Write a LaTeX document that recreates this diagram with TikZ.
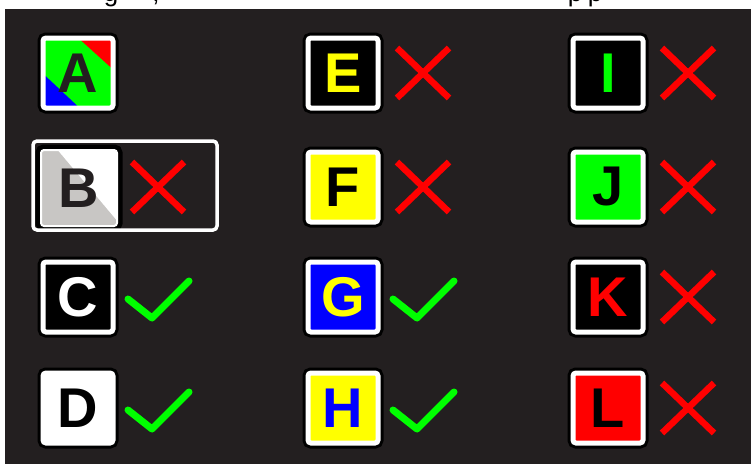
\documentclass[tikz,border=0pt]{standalone}
\usepackage{fontspec}
\setmainfont{Liberation Sans}
\usetikzlibrary{calc}
\definecolor{bg}{RGB}{35,31,32}
\definecolor{pgreen}{RGB}{0,255,0}
\definecolor{pred}{RGB}{255,0,0}
\definecolor{pblue}{RGB}{0,0,255}
\definecolor{pyellow}{RGB}{255,255,0}
\definecolor{bgray}{RGB}{200,198,196}
\begin{document}
\begin{tikzpicture}[x=1pt,y=-1pt,
  tile/.style={minimum size=70pt, inner sep=0pt, rounded corners=3pt,
    draw=white, line width=5pt, preaction={draw=black, line width=11pt},
    font=\fontsize{56}{56}\selectfont\bfseries},
  bigtile/.style={tile, minimum size=76pt, line width=2pt, preaction={draw=black, line width=9pt}},
  redx/.pic={\draw[pred, line width=6.5pt] (-26,-25) -- (26,25) (-26,25) -- (26,-25);},
  greencheck/.pic={\draw[pgreen, line width=7pt, line cap=round, line join=round] (-30,2) -- (-6,21) -- (31,-16);},
  toptext/.style={anchor=base, inner sep=0pt, font=\fontsize{26}{26}\selectfont}
]
\useasboundingbox (0,0) rectangle (751,464);
\fill[white] (0,0) rectangle (751,464);
\fill[bg] (5,9) rectangle (751,464);
\begin{scope}
  \clip (0,0) rectangle (751,9);
  \node[toptext] (t1) at (111,1) {g};
  \node[toptext] (t2) at (156,1) {,};
  \node[toptext] (t3) at (575,1) {p};
  \node[toptext] (t4) at (595,1) {p};
\end{scope}
% column 1
\node[tile, fill=pgreen, text=bg,
  path picture={
    \fill[pred] ([shift={(-0.8,-36)}]path picture bounding box.center) -- ([shift={(36,-36)}]path picture bounding box.center) -- ([shift={(36,-2.7)}]path picture bounding box.center) -- cycle;
    \fill[pblue] ([shift={(-36,-0.3)}]path picture bounding box.center) -- ([shift={(-36,36)}]path picture bounding box.center) -- ([shift={(2.7,36)}]path picture bounding box.center) -- cycle;
  }] (tA) at (78,73) {A};
\node[bigtile, fill=bgray, text=bg,
  path picture={
    \fill[white] ([shift={(-23,-40)}]path picture bounding box.center) -- ([shift={(40,-40)}]path picture bounding box.center) -- ([shift={(40,35)}]path picture bounding box.center) -- cycle;
  }] (tB) at (79,188) {B};
\node[tile, fill=black, text=white] (tC) at (78,297) {C};
\node[tile, fill=white, text=black] (tD) at (78,408) {D};
% column 2
\node[tile, fill=black, text=pyellow] (tE) at (343,73) {E};
\node[tile, fill=pyellow, text=black] (tF) at (343,187) {F};
\node[tile, fill=pblue, text=pyellow] (tG) at (343,297) {G};
\node[tile, fill=pyellow, text=pblue] (tH) at (343,408) {H};
% column 3
\node[tile, fill=black, text=pgreen] (tI) at (608,73) {I};
\node[tile, fill=pgreen, text=black] (tJ) at (608,187) {J};
\node[tile, fill=black, text=pred] (tK) at (608,297) {K};
\node[tile, fill=pred, text=black] (tL) at (608,408) {L};
% selection box
\node[draw=white, line width=3.5pt, rounded corners=4pt, minimum width=184pt, minimum height=89pt, inner sep=0pt] (sel) at (125,185.5) {};
% marks
\path (tB.center) ++(79,-1) pic {redx};
\path (tE.center) ++(80,0) pic {redx};
\path (tF.center) ++(80,0) pic {redx};
\path (tI.center) ++(80,0) pic {redx};
\path (tJ.center) ++(80,0) pic {redx};
\path (tK.center) ++(80,0) pic {redx};
\path (tL.center) ++(80,0) pic {redx};
\path (tC.center) ++(80,0) pic {greencheck};
\path (tD.center) ++(80,0) pic {greencheck};
\path (tG.center) ++(80,0) pic {greencheck};
\path (tH.center) ++(80,0) pic {greencheck};
\end{tikzpicture}
\end{document}
